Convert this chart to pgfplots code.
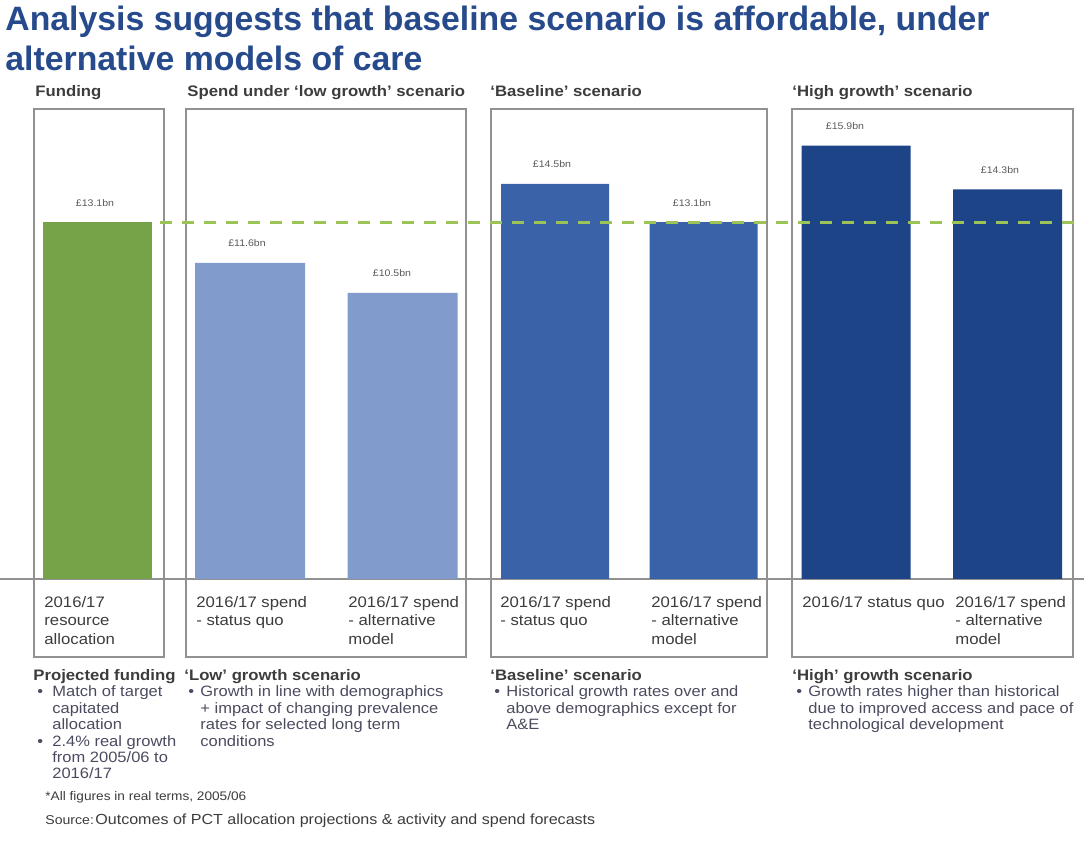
\documentclass[border=0pt]{standalone}
\usepackage{pgfplots}
\pgfplotsset{compat=1.18}
\usepackage{fontspec}
\setmainfont{Liberation Sans}[FakeStretch=1.1]
\newfontfamily\titlefont{Liberation Sans}
\definecolor{titlec}{RGB}{38,74,140}
\definecolor{fundc}{RGB}{119,163,72}
\definecolor{dashc}{RGB}{155,195,85}
\definecolor{lowc}{RGB}{128,155,204}
\definecolor{basec}{RGB}{58,98,168}
\definecolor{highc}{RGB}{30,68,136}
\definecolor{boxc}{RGB}{145,145,145}
\definecolor{txtc}{RGB}{60,60,60}
\definecolor{valc}{RGB}{90,90,90}
\definecolor{bulc}{RGB}{75,75,95}
\newcommand{\hdfont}{\fontsize{7.6}{9}\selectfont\bfseries}
\newcommand{\catfont}{\fontsize{7.6}{9}\selectfont}
\newcommand{\bfont}{\fontsize{7.5}{8.2}\selectfont}
\newcommand{\valfont}{\fontsize{4.8}{5}\selectfont}
% x, y of first baseline, line spacing, node style, list of lines
\newcommand{\mlines}[5]{%
  \foreach \lline [count=\i from 0] in {#5} {\node[#4] at (#1,#2+#3*\i) {\lline};}}
\begin{document}
\begin{tikzpicture}
\useasboundingbox (0,0) rectangle (542pt,424pt);
\begin{scope}[shift={(0pt,424pt)},x=0.5pt,y=-0.5pt]
  \draw[boxc, line width=0.8pt] (34,109) rectangle (164,657);
  \draw[boxc, line width=0.8pt] (186,109) rectangle (466,657);
  \draw[boxc, line width=0.8pt] (491,109) rectangle (767,657);
  \draw[boxc, line width=0.8pt] (792,109) rectangle (1073,657);
\end{scope}
\begin{axis}[at={(0pt,0pt)}, anchor=south west, scale only axis,
  width=542pt, height=424pt, hide axis,
  xmin=0, xmax=1084, ymin=-9.872, ymax=21.248, clip=false]
  \addplot[boxc, line width=0.6pt] coordinates {(0,0) (1084,0)};
  \addplot[ybar, bar width=109, bar shift=0pt, fill=fundc, draw=none] coordinates {(97.5,13.1)};
  \addplot[ybar, bar width=110, bar shift=0pt, fill=lowc, draw=none] coordinates {(250,11.6) (402.5,10.5)};
  \addplot[ybar, bar width=108, bar shift=0pt, fill=basec, draw=none] coordinates {(555,14.5) (703.5,13.1)};
  \addplot[ybar, bar width=109, bar shift=0pt, fill=highc, draw=none] coordinates {(856,15.9) (1007.5,14.3)};
  \addplot[dashc, line width=1.5pt, dash pattern=on 6pt off 5pt] coordinates {(160,13.1) (1078,13.1)};
  \foreach \xx/\vv/\tt in {95/13.1/13.1, 247/11.6/11.6, 392/10.5/10.5, 552/14.5/14.5, 692/13.1/13.1, 845/15.9/15.9, 1000/14.3/14.3}{
    \edef\temp{\noexpand\node[anchor=base, yshift=8pt, inner sep=0pt, text=valc, font=\noexpand\valfont] at (axis cs:\xx,\vv) {£\tt bn};}
    \temp
  }
\end{axis}
\begin{scope}[shift={(0pt,424pt)},x=0.5pt,y=-0.5pt, every node/.style={inner sep=0pt, anchor=base west}]
  % title
  \node[text=titlec, font=\titlefont\fontsize{16.9}{20}\selectfont\bfseries] at (5,31) {Analysis suggests that baseline scenario is affordable, under};
  \node[text=titlec, font=\titlefont\fontsize{16.9}{20}\selectfont\bfseries] at (5,71) {alternative models of care};
  % panel headings
  \node[text=txtc, font=\hdfont] at (35,97) {Funding};
  \node[text=txtc, font=\hdfont] at (187,97) {Spend under `low growth' scenario};
  \node[text=txtc, font=\hdfont] at (490,97) {`Baseline' scenario};
  \node[text=txtc, font=\hdfont] at (792,97) {`High growth' scenario};
  % category labels
  \mlines{44}{608}{18}{text=txtc, font=\catfont}{2016/17, resource, allocation}
  \mlines{196}{608}{18}{text=txtc, font=\catfont}{2016/17 spend, - status quo}
  \mlines{348}{608}{18}{text=txtc, font=\catfont}{2016/17 spend, - alternative, model}
  \mlines{500}{608}{18}{text=txtc, font=\catfont}{2016/17 spend, - status quo}
  \mlines{651}{608}{18}{text=txtc, font=\catfont}{2016/17 spend, - alternative, model}
  \mlines{802}{608}{18}{text=txtc, font=\catfont}{2016/17 status quo}
  \mlines{955}{608}{18}{text=txtc, font=\catfont}{2016/17 spend, - alternative, model}
  % bottom headings
  \node[text=txtc, font=\hdfont] at (33,680) {Projected funding};
  \node[text=txtc, font=\hdfont] at (184,680) {`Low' growth scenario};
  \node[text=txtc, font=\hdfont] at (490,680) {`Baseline' scenario};
  \node[text=txtc, font=\hdfont] at (792,680) {`High' growth scenario};
  % bullets
  \node[text=bulc, font=\bfont] at (37,697) {•};
  \mlines{52}{697}{16.4}{text=bulc, font=\bfont}{Match of target, capitated, allocation}
  \node[text=bulc, font=\bfont] at (37,746) {•};
  \mlines{52}{746}{16.4}{text=bulc, font=\bfont}{2.4\% real growth, from 2005/06 to, 2016/17}
  \node[text=bulc, font=\bfont] at (188,697) {•};
  \mlines{200}{697}{16.4}{text=bulc, font=\bfont}{Growth in line with demographics, + impact of changing prevalence, rates for selected long term, conditions}
  \node[text=bulc, font=\bfont] at (494,697) {•};
  \mlines{506}{697}{16.4}{text=bulc, font=\bfont}{Historical growth rates over and, above demographics except for, A\&E}
  \node[text=bulc, font=\bfont] at (796,697) {•};
  \mlines{808}{697}{16.4}{text=bulc, font=\bfont}{Growth rates higher than historical, due to improved access and pace of, technological development}
  % footnotes
  \node[text=txtc, font=\fontsize{6.2}{7}\selectfont] at (45,801) {*All figures in real terms, 2005/06};
  \node[text=txtc, font=\fontsize{6.4}{7}\selectfont] at (45,824) {Source:};
  \node[text=txtc, font=\fontsize{7.3}{8}\selectfont] at (95,824) {Outcomes of PCT allocation projections \& activity and spend forecasts};
\end{scope}
\end{tikzpicture}
\end{document}
